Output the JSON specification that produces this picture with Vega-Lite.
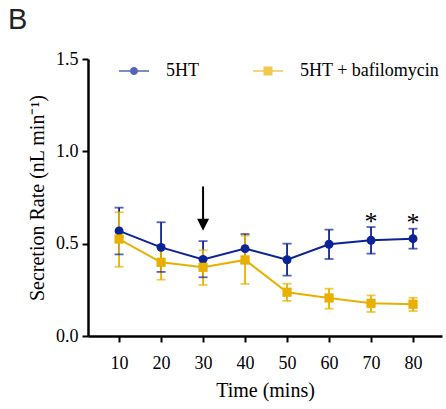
{
  "$schema": "https://vega.github.io/schema/vega-lite/v6.json",
  "width": 354,
  "height": 277,
  "autosize": {"type": "none"},
  "padding": {"left": 88, "top": 59, "right": 4, "bottom": 73},
  "background": "white",
  "title": {
    "text": "B",
    "anchor": "start",
    "frame": "group",
    "dx": -80,
    "dy": 27,
    "offset": 19,
    "baseline": "alphabetic",
    "font": "Liberation Sans",
    "fontSize": 29,
    "fontWeight": "normal",
    "color": "#222222"
  },
  "datasets": {
    "series": [
      {"time": 10, "group": "5HT", "mean": 0.569, "lo": 0.442, "hi": 0.695},
      {"time": 20, "group": "5HT", "mean": 0.48, "lo": 0.347, "hi": 0.616},
      {"time": 30, "group": "5HT", "mean": 0.415, "lo": 0.318, "hi": 0.514},
      {"time": 40, "group": "5HT", "mean": 0.473, "lo": 0.394, "hi": 0.552},
      {"time": 50, "group": "5HT", "mean": 0.413, "lo": 0.327, "hi": 0.5},
      {"time": 60, "group": "5HT", "mean": 0.497, "lo": 0.417, "hi": 0.576},
      {"time": 70, "group": "5HT", "mean": 0.518, "lo": 0.446, "hi": 0.59},
      {"time": 80, "group": "5HT", "mean": 0.527, "lo": 0.473, "hi": 0.581},
      {"time": 10, "group": "5HT + bafilomycin", "mean": 0.525, "lo": 0.375, "hi": 0.67},
      {"time": 20, "group": "5HT + bafilomycin", "mean": 0.399, "lo": 0.305, "hi": 0.493},
      {"time": 30, "group": "5HT + bafilomycin", "mean": 0.372, "lo": 0.276, "hi": 0.464},
      {"time": 40, "group": "5HT + bafilomycin", "mean": 0.412, "lo": 0.282, "hi": 0.543},
      {"time": 50, "group": "5HT + bafilomycin", "mean": 0.237, "lo": 0.19, "hi": 0.283},
      {"time": 60, "group": "5HT + bafilomycin", "mean": 0.206, "lo": 0.148, "hi": 0.256},
      {"time": 70, "group": "5HT + bafilomycin", "mean": 0.177, "lo": 0.13, "hi": 0.22},
      {"time": 80, "group": "5HT + bafilomycin", "mean": 0.172, "lo": 0.135, "hi": 0.207}
    ],
    "stars": [
      {"time": 70, "y": 0.574, "label": "*"},
      {"time": 80, "y": 0.569, "label": "*"}
    ],
    "arrow": [
      {"time": 30, "top": 0.81, "bottom": 0.628, "head": 0.603}
    ]
  },
  "encoding": {
    "x": {
      "field": "time",
      "type": "quantitative",
      "scale": {"domain": [2.6, 86.9], "nice": false, "zero": false},
      "axis": {
        "values": [10, 20, 30, 40, 50, 60, 70, 80],
        "title": "Time (mins)",
        "titleFont": "Liberation Serif",
        "titleFontSize": 20,
        "titleFontWeight": "normal",
        "titleColor": "black",
        "labelPadding": 12,
        "titlePadding": 8
      }
    }
  },
  "layer": [
    {
      "data": {"name": "series"},
      "transform": [{"filter": "datum.time > 1000"}],
      "mark": {"type": "point", "filled": true, "opacity": 1, "fillOpacity": 1},
      "encoding": {
        "y": {
          "field": "mean",
          "type": "quantitative",
          "scale": {"domain": [0, 1.5], "nice": false},
          "axis": {
            "values": [0, 0.5, 1, 1.5],
            "format": ".1f",
            "title": "Secretion Rate (nL min⁻¹)",
            "titleFont": "Liberation Serif",
            "titleFontSize": 20,
            "titleFontWeight": "normal",
            "titleColor": "black",
            "labelPadding": 4,
            "titlePadding": 8
          }
        },
        "color": {
          "field": "group",
          "type": "nominal",
          "scale": {"domain": ["5HT", "5HT + bafilomycin"], "range": ["#0b2394", "#e8b000"]},
          "legend": {
            "title": null,
            "orient": "none",
            "legendX": 31,
            "legendY": -3,
            "direction": "horizontal",
            "padding": 0,
            "symbolSize": 900,
            "symbolStrokeWidth": 0,
            "symbolOpacity": 1,
            "labelFont": "Liberation Serif",
            "labelFontSize": 18,
            "labelColor": "black",
            "labelOffset": 17,
            "columnPadding": 54
          }
        },
        "shape": {
          "field": "group",
          "type": "nominal",
          "scale": {
            "domain": ["5HT", "5HT + bafilomycin"],
            "range": [
              "M-1,-0.05L1,-0.05L1,0.05L-1,0.05Z M0.27,0A0.27,0.27 0 1,1 -0.27,0A0.27,0.27 0 1,1 0.27,0Z",
              "M-1,-0.05L1,-0.05L1,0.05L-1,0.05Z M-0.3,-0.3L0.3,-0.3L0.3,0.3L-0.3,0.3Z"
            ]
          },
          "legend": {
            "title": null,
            "orient": "none",
            "legendX": 31,
            "legendY": -3,
            "direction": "horizontal",
            "padding": 0,
            "symbolSize": 900,
            "symbolStrokeWidth": 0,
            "symbolOpacity": 1,
            "labelFont": "Liberation Serif",
            "labelFontSize": 18,
            "labelColor": "black",
            "labelOffset": 17,
            "columnPadding": 54
          }
        }
      }
    },
    {
      "data": {"name": "series"},
      "mark": {"type": "rule", "strokeWidth": 1.8},
      "encoding": {
        "y": {"field": "lo", "type": "quantitative"},
        "y2": {"field": "hi"},
        "color": {"field": "group", "type": "nominal"}
      }
    },
    {
      "data": {"name": "series"},
      "mark": {"type": "tick", "orient": "horizontal", "size": 9, "thickness": 1.8},
      "encoding": {
        "y": {"field": "lo", "type": "quantitative"},
        "color": {"field": "group", "type": "nominal"}
      }
    },
    {
      "data": {"name": "series"},
      "mark": {"type": "tick", "orient": "horizontal", "size": 9, "thickness": 1.8},
      "encoding": {
        "y": {"field": "hi", "type": "quantitative"},
        "color": {"field": "group", "type": "nominal"}
      }
    },
    {
      "data": {"name": "series"},
      "mark": {"type": "line", "strokeWidth": 2},
      "encoding": {
        "y": {"field": "mean", "type": "quantitative"},
        "color": {"field": "group", "type": "nominal"}
      }
    },
    {
      "data": {"name": "series"},
      "transform": [{"filter": "datum.group === '5HT'"}],
      "mark": {"type": "point", "filled": true, "opacity": 1, "size": 80, "shape": "circle"},
      "encoding": {
        "y": {"field": "mean", "type": "quantitative"},
        "color": {"field": "group", "type": "nominal"}
      }
    },
    {
      "data": {"name": "series"},
      "transform": [{"filter": "datum.group === '5HT + bafilomycin'"}],
      "mark": {"type": "point", "filled": true, "opacity": 1, "size": 85, "shape": "square"},
      "encoding": {
        "y": {"field": "mean", "type": "quantitative"},
        "color": {"field": "group", "type": "nominal"}
      }
    },
    {
      "data": {"name": "stars"},
      "mark": {"type": "text", "font": "Liberation Serif", "fontSize": 26, "baseline": "alphabetic", "color": "black"},
      "encoding": {
        "y": {"field": "y", "type": "quantitative"},
        "text": {"field": "label"}
      }
    },
    {
      "data": {"name": "arrow"},
      "mark": {"type": "rule", "strokeWidth": 2, "color": "black"},
      "encoding": {
        "y": {"field": "top", "type": "quantitative"},
        "y2": {"field": "bottom"}
      }
    },
    {
      "data": {"name": "arrow"},
      "mark": {"type": "point", "filled": true, "opacity": 1, "color": "black", "size": 144, "shape": "M-1,-1L1,-1L0,1Z"},
      "encoding": {
        "y": {"field": "head", "type": "quantitative"}
      }
    }
  ],
  "config": {
    "view": {"stroke": null},
    "axis": {
      "grid": false,
      "domainColor": "black",
      "domainWidth": 2.5,
      "tickColor": "black",
      "tickWidth": 2,
      "tickSize": 6,
      "labelFont": "Liberation Serif",
      "labelFontSize": 18,
      "labelColor": "black"
    }
  }
}
